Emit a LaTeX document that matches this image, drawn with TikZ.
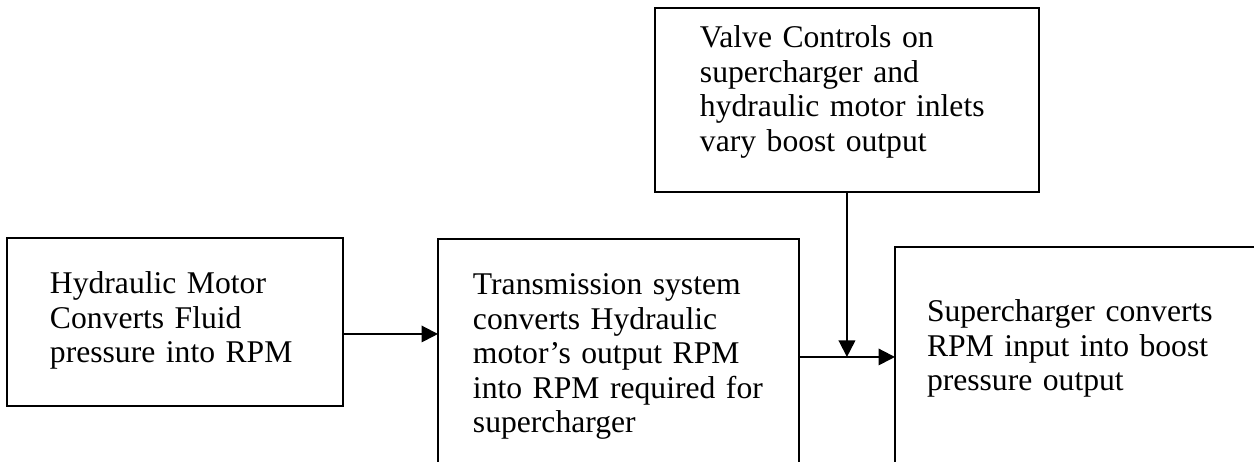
\documentclass[tikz,border=0pt]{standalone}
\usepackage{fontspec}
\setmainfont{Liberation Serif}
\usetikzlibrary{arrows.meta}

\begin{document}
\begin{tikzpicture}[x=0.02cm,y=-0.02cm,>={Triangle[length=0.33cm,width=0.33cm]},
  block/.style={draw,line width=1.5pt,anchor=north west,align=left,inner ysep=0pt,
    outer sep=0pt,font=\fontsize{18pt}{19.6pt}\selectfont},
  link/.style={->,line width=1.1pt}]
  \useasboundingbox (0,0) rectangle (1254,462);
  \node[block,text width=5cm,inner xsep=.86cm,text height=1.12cm,text depth=2.24cm]
    (motor) at (7,238) {Hydraulic Motor\\Converts Fluid\\pressure into RPM};
  \node[block,text width=5.82cm,inner xsep=.7cm,text height=1.12cm,text depth=3.6cm]
    (trans) at (438,239) {Transmission system\\converts Hydraulic\\motor’s output RPM\\into RPM required for\\supercharger};
  \node[block,text width=6.12cm,inner xsep=.64cm,text height=1.5cm,text depth=2.82cm]
    (super) at (895,247) {Supercharger converts\\RPM input into boost\\pressure output};
  \node[block,text width=5.88cm,inner xsep=.9cm,text height=.8cm,text depth=2.88cm]
    (valve) at (655,8) {Valve Controls on\\supercharger and\\hydraulic motor inlets\\vary boost output};
  \coordinate (m) at ([yshift=-.24cm]motor.east);
  \draw[link] (m) -- (m -| trans.west);
  \draw[link] (trans.east) -- (trans.east -| super.west);
  \draw[link] (valve.south) -- (valve.south |- trans.east);
\end{tikzpicture}
\end{document}
